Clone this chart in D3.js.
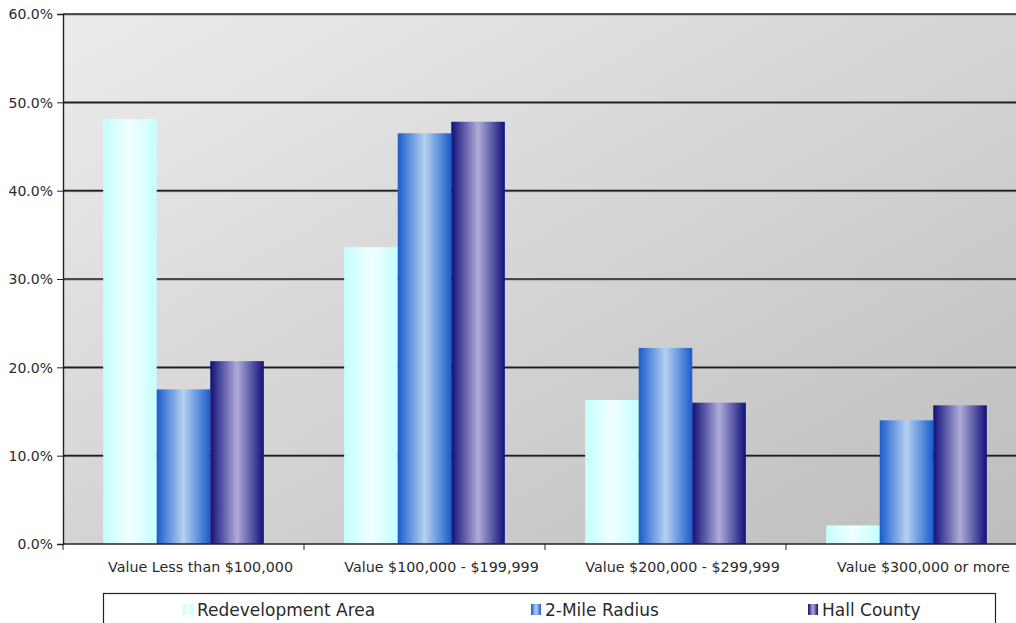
<!DOCTYPE html>
<html>
<head>
<meta charset="utf-8">
<script src="https://cdn.jsdelivr.net/npm/d3@7/dist/d3.min.js"></script>
<style>
  html, body { margin: 0; padding: 0; background: #fff; }
  svg { display: block; }
  text { font-family: "DejaVu Sans", "Noto Sans", sans-serif; fill: #2a2a2a; }
</style>
</head>
<body>
<svg id="chart" width="1016" height="623"></svg>
<script>
// Home value distribution by area
const categories = ["Value Less than $100,000", "Value $100,000 - $199,999", "Value $200,000 - $299,999", "Value $300,000 or more"];
const seriesNames = ["Redevelopment Area", "2-Mile Radius", "Hall County"];
const redevelopment = [48.1, 33.6, 16.3, 2.1];
const twoMile = [17.5, 46.5, 22.2, 14.0];
const hallCounty = [20.7, 47.8, 16.0, 15.7];
const yTicks = [0, 10, 20, 30, 40, 50, 60];

const seriesValues = [redevelopment, twoMile, hallCounty];

const svg = d3.select("#chart");
const margin = { left: 63, top: 14, right: 1027, bottom: 544 };

const x0 = d3.scaleBand().domain(categories).range([margin.left, margin.right]).paddingInner(0).paddingOuter(0);
const x1 = d3.scaleBand().domain(seriesNames).range([0, x0.bandwidth()]).paddingOuter(0.75).paddingInner(0);
const y = d3.scaleLinear().domain([0, 60]).range([margin.bottom, margin.top]);

const defs = svg.append("defs");

// Plot-area background: light grey fading darker toward lower right
const bg = defs.append("linearGradient").attr("id", "bgGrad")
  .attr("x1", "0").attr("y1", "0").attr("x2", "1").attr("y2", "1");
bg.append("stop").attr("offset", "0%").attr("stop-color", "#ececec");
bg.append("stop").attr("offset", "100%").attr("stop-color", "#bdbdbd");

// Cylindrical horizontal gradients for each series
const barStops = [
  ["#c4ffff", "#f2ffff", "#c4ffff"],
  ["#1a5ccc", "#b4d2f0", "#1a5ccc"],
  ["#10107a", "#b0acd8", "#10107a"]
];
barStops.forEach((s, i) => {
  const g = defs.append("linearGradient").attr("id", "bar" + i)
    .attr("x1", "0").attr("y1", "0").attr("x2", "1").attr("y2", "0");
  g.append("stop").attr("offset", "0%").attr("stop-color", s[0]);
  g.append("stop").attr("offset", "50%").attr("stop-color", s[1]);
  g.append("stop").attr("offset", "100%").attr("stop-color", s[2]);
});

svg.append("rect")
  .attr("x", margin.left).attr("y", margin.top)
  .attr("width", margin.right - margin.left).attr("height", margin.bottom - margin.top)
  .attr("fill", "url(#bgGrad)");

// Horizontal gridlines
const grid = svg.append("g");
yTicks.filter(t => t > 0).forEach(t => {
  grid.append("line")
    .attr("x1", margin.left).attr("x2", margin.right)
    .attr("y1", y(t) + 1).attr("y2", y(t) + 1)
    .attr("stroke", "#9a9a9a").attr("stroke-width", 1);
  grid.append("line")
    .attr("x1", margin.left).attr("x2", margin.right)
    .attr("y1", y(t)).attr("y2", y(t))
    .attr("stroke", "#1e1e1e").attr("stroke-width", 1.6);
});

// Bars
const groups = svg.append("g").selectAll("g")
  .data(categories)
  .join("g")
  .attr("transform", d => `translate(${x0(d)},0)`);

groups.selectAll("rect")
  .data((c, ci) => seriesNames.map((s, si) => ({ s, si, v: seriesValues[si][ci] })))
  .join("rect")
  .attr("x", d => x1(d.s))
  .attr("width", x1.bandwidth())
  .attr("y", d => y(d.v))
  .attr("height", d => y(0) - y(d.v))
  .attr("fill", d => `url(#bar${d.si})`);

// Y axis
const yAxis = d3.axisLeft(y).tickValues(yTicks).tickSize(6).tickFormat(d => d.toFixed(1) + "%");
const yg = svg.append("g").attr("transform", `translate(${margin.left},0)`).call(yAxis);
yg.select(".domain").attr("stroke", "#222").attr("stroke-width", 1.4);
yg.selectAll(".tick line").attr("stroke", "#222");
yg.selectAll(".tick text").attr("x", -10).attr("dy", "0.35em")
  .style("font-size", "14px").style("fill", "#2a2a2a");

// X axis with ticks at category boundaries
const xg = svg.append("g").attr("transform", `translate(0,${margin.bottom})`);
xg.append("line").attr("x1", margin.left).attr("x2", margin.right)
  .attr("y1", 0).attr("y2", 0).attr("stroke", "#222").attr("stroke-width", 1.4);
categories.forEach(c => {
  xg.append("line").attr("x1", x0(c)).attr("x2", x0(c)).attr("y1", 0).attr("y2", 6)
    .attr("stroke", "#222");
});
xg.selectAll("text.cat")
  .data(categories)
  .join("text")
  .attr("class", "cat")
  .attr("x", d => x0(d) + x0.bandwidth() / 2 + 17)
  .attr("y", 28)
  .attr("text-anchor", "middle")
  .style("font-size", "14.3px")
  .text(d => d);

// Legend
const legend = svg.append("g");
legend.append("rect")
  .attr("x", 103.5).attr("y", 593.5).attr("width", 892).attr("height", 40)
  .attr("fill", "#fff").attr("stroke", "#222").attr("stroke-width", 1.2);
const legendX = [183, 531, 808];
seriesNames.forEach((s, i) => {
  legend.append("rect").attr("x", legendX[i]).attr("y", 604)
    .attr("width", 10).attr("height", 11).attr("fill", `url(#bar${i})`);
  legend.append("text").attr("x", legendX[i] + 14).attr("y", 616)
    .style("font-size", "17px").text(s);
});
</script>
</body>
</html>
